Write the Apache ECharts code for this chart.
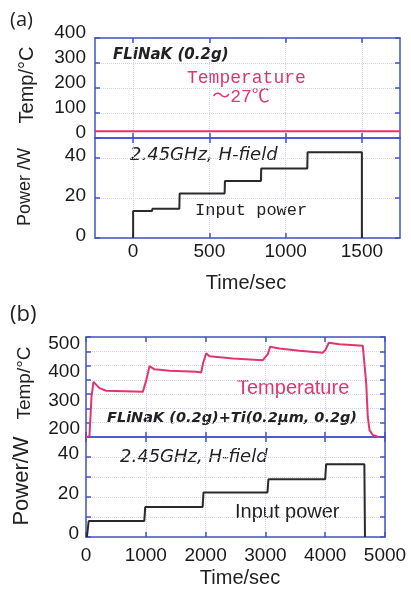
<!DOCTYPE html>
<html>
<head>
<meta charset="utf-8">
<script src="https://cdn.jsdelivr.net/npm/echarts@6/dist/echarts.min.js"></script>
<style>
html, body { margin: 0; padding: 0; background: #fff; }
#echart { width: 411px; height: 589px; }
</style>
</head>
<body>
<div id="echart"></div>
<script>
// (a) FLiNaK only
var aTempTime = [-250, 1750];
var aTempVal = [27, 27];
var aPowerTime = [0, 0, 124, 126, 303, 305, 600, 602, 838, 840, 1142, 1144, 1500, 1500];
var aPowerVal = [0, 13.5, 13.5, 14.6, 14.6, 22.2, 22.2, 28.5, 28.5, 34.7, 34.7, 42.9, 42.9, 0];
var aTimeTicks = [0, 500, 1000, 1500];
var aTempTicks = [0, 100, 200, 300, 400];
var aPowerTicks = [0, 20, 40];

// (b) FLiNaK + Ti
var bTempTime = [0, 58, 92, 125, 153, 226, 337, 950, 978, 1010, 1062, 1146, 1396, 1843, 1926, 1960, 2010, 2065, 2455, 2957, 2990, 3040, 3080, 3236, 3570, 3960, 4005, 4060, 4239, 4629, 4657, 4686, 4712, 4741, 4796, 4880, 4900];
var bTempVal = [200, 203, 341, 393, 389, 371, 362, 358, 364, 400, 448, 437, 432, 428, 426, 460, 493, 483, 475, 469, 472, 490, 516, 510, 502, 495, 505, 530, 525, 519, 518, 388, 271, 224, 207, 201, 200];
var bPowerTime = [15, 45, 975, 990, 1950, 1965, 3035, 3050, 4000, 4015, 4655, 4665];
var bPowerVal = [0, 8, 8, 15, 15, 22.3, 22.3, 28.9, 28.9, 36.4, 36.4, 0];
var bTimeTicks = [0, 1000, 2000, 3000, 4000, 5000];
var bTempTicks = [200, 300, 400, 500];
var bPowerTicks = [0, 20, 40];

var blue = '#4452c8';
var pink = '#e2356e';
var labelFont = { fontFamily: 'Liberation Sans', fontSize: 19, color: '#1a1a1a' };
var plain = function (v) { return String(v); };

function pairs(t, v) {
    return t.map(function (x, i) { return [x, v[i]]; });
}

function xAx(grid, min, max, interval, opts) {
    return {
        type: 'value', gridIndex: grid, min: min, max: max, interval: interval,
        position: opts.top ? 'top' : 'bottom',
        axisLine: { show: true, onZero: false, lineStyle: { color: blue, width: 1.5 } },
        axisTick: { show: true, inside: true, length: 5, customValues: opts.ticks, lineStyle: { color: blue, width: 1.5 } },
        axisLabel: opts.labels ? Object.assign({ show: true, margin: opts.margin, customValues: opts.ticks, formatter: plain }, labelFont) : { show: false },
        splitLine: opts.top ? { show: false } : { show: true, customValues: opts.ticks, lineStyle: { color: '#cdd1ec', type: 'dotted', width: 1 } }
    };
}

function yAx(grid, min, max, interval, opts) {
    var lift = opts.lift || 0;
    return {
        type: 'value', gridIndex: grid, min: min, max: max, interval: interval,
        position: opts.right ? 'right' : 'left',
        axisLine: { show: true, onZero: false, lineStyle: { color: blue, width: 1.5 } },
        axisTick: { show: true, inside: true, length: 5, lineStyle: { color: blue, width: 1.5 } },
        axisLabel: opts.right ? { show: false } : Object.assign({
            show: true, margin: opts.margin, customValues: opts.ticks, formatter: plain,
            verticalAlign: lift ? 'bottom' : 'middle', lineHeight: lift ? lift * 2 : 19
        }, labelFont),
        splitLine: opts.right ? { show: false } : { show: true, customValues: opts.ticks, lineStyle: { color: '#cdd1ec', type: 'dotted', width: 1 } }
    };
}

function txt(x, y, s, font, color, align) {
    return {
        type: 'text', x: x, y: y,
        style: { text: s, font: font, fill: color || '#222', textAlign: align || 'left', textVerticalAlign: 'middle' }
    };
}

function vtxt(x, y, s, font) {
    return {
        type: 'text', x: x, y: y, rotation: Math.PI / 2,
        style: { text: s, font: font, fill: '#222', textAlign: 'center', textVerticalAlign: 'middle' }
    };
}

var myChart = echarts.init(document.getElementById('echart'));

option = {
    backgroundColor: '#fff',
    animation: false,
    grid: [
        { left: 95, right: 11, top: 38, height: 100 },
        { left: 95, right: 11, top: 138, height: 100 },
        { left: 86, right: 26, top: 337, height: 100 },
        { left: 86, right: 26, top: 437, height: 100 }
    ],
    xAxis: [
        xAx(0, -250, 1750, 250, { ticks: aTimeTicks }),
        xAx(0, -250, 1750, 250, { ticks: aTimeTicks, top: true }),
        xAx(1, -250, 1750, 250, { ticks: aTimeTicks, labels: true, margin: 4 }),
        xAx(1, -250, 1750, 250, { ticks: aTimeTicks, top: true }),
        xAx(2, 0, 5000, 1000, { ticks: bTimeTicks }),
        xAx(2, 0, 5000, 1000, { ticks: bTimeTicks, top: true }),
        xAx(3, 0, 5000, 1000, { ticks: bTimeTicks, labels: true, margin: 9 }),
        xAx(3, 0, 5000, 1000, { ticks: bTimeTicks, top: true })
    ],
    yAxis: [
        yAx(0, 0, 400, 100, { ticks: aTempTicks, margin: 9, lift: 5 }),
        yAx(0, 0, 400, 100, { right: true }),
        yAx(1, 0, 50, 20, { ticks: aPowerTicks, margin: 9, lift: 2 }),
        yAx(1, 0, 50, 20, { right: true }),
        yAx(2, 200, 550, 50, { ticks: bTempTicks, margin: 6, lift: 8 }),
        yAx(2, 200, 550, 50, { right: true }),
        yAx(3, 0, 50, 10, { ticks: bPowerTicks, margin: 7, lift: 3 }),
        yAx(3, 0, 50, 10, { right: true })
    ],
    series: [
        { type: 'line', xAxisIndex: 0, yAxisIndex: 0, data: pairs(aTempTime, aTempVal), showSymbol: false, lineStyle: { color: pink, width: 2 } },
        { type: 'line', xAxisIndex: 2, yAxisIndex: 2, data: pairs(aPowerTime, aPowerVal), showSymbol: false, lineStyle: { color: '#2a2a2a', width: 2 } },
        { type: 'line', xAxisIndex: 4, yAxisIndex: 4, data: pairs(bTempTime, bTempVal), showSymbol: false, lineStyle: { color: pink, width: 2 } },
        { type: 'line', xAxisIndex: 6, yAxisIndex: 6, data: pairs(bPowerTime, bPowerVal), showSymbol: false, lineStyle: { color: '#2a2a2a', width: 2 } }
    ],
    graphic: [
        txt(10, 20, '(a)', '20px "Open Sans"'),
        txt(10, 315, '(b)', '22px "Open Sans"'),
        vtxt(27, 85, 'Temp/°C', '20px "Liberation Sans"'),
        vtxt(25, 187, 'Power /W', '18px "Liberation Sans"'),
        vtxt(25, 383, 'Temp/°C', '19px "Liberation Sans"'),
        vtxt(22, 481, 'Power/W', '22px "Liberation Sans"'),
        txt(113, 55, 'FLiNaK (0.2g)', 'italic bold 15px "DejaVu Sans"'),
        txt(187, 78, 'Temperature', '18px "Liberation Mono"', pink),
        txt(241, 97, '～27℃', '18px "Liberation Mono", "Noto Sans CJK JP"', pink, 'center'),
        txt(130, 155, '2.45GHz, H-field', 'italic 18px "DejaVu Sans"'),
        txt(195, 210, 'Input power', '17px "Liberation Mono"'),
        txt(246, 283, 'Time/sec', '20px "Liberation Sans"', '#222', 'center'),
        txt(237, 388, 'Temperature', '20px "Liberation Sans"', pink),
        txt(107, 418, 'FLiNaK (0.2g)+Ti(0.2μm, 0.2g)', 'italic bold 14.5px "DejaVu Sans"'),
        txt(120, 457, '2.45GHz, H-field', 'italic 18px "DejaVu Sans"'),
        txt(235, 512, 'Input power', '20px "Liberation Sans"'),
        txt(240, 578, 'Time/sec', '20px "Liberation Sans"', '#222', 'center')
    ]
};
myChart.setOption(option);
</script>
</body>
</html>
